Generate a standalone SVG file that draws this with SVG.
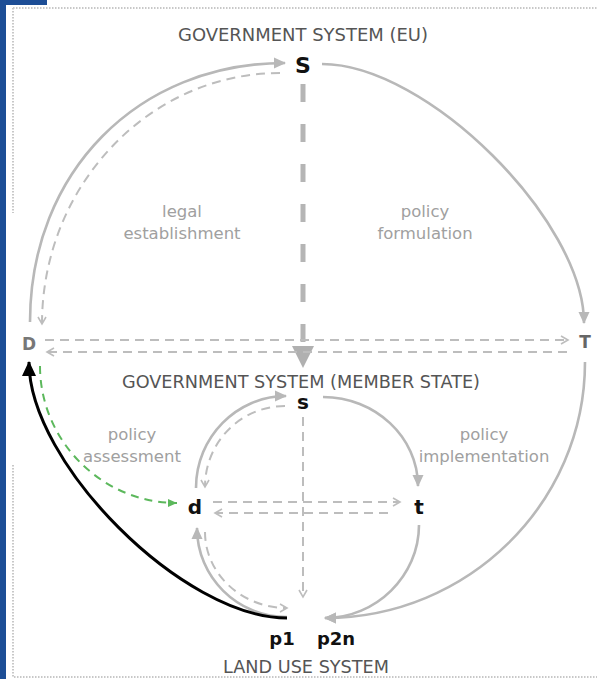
<svg xmlns="http://www.w3.org/2000/svg" width="597" height="679" viewBox="0 0 597 679">
<style>
.title{font-family:"DejaVu Sans",Verdana,sans-serif;font-size:17px;fill:#555;text-anchor:middle}
.lbl{font-family:"DejaVu Sans",Verdana,sans-serif;font-size:16.5px;fill:#a0a0a0;text-anchor:middle}
.node{font-family:"DejaVu Sans",Verdana,sans-serif;font-weight:bold;text-anchor:middle;fill:#111}
.solid{fill:none;stroke:#b8b8b8;stroke-width:2.6}
.dash{fill:none;stroke:#bdbdbd;stroke-width:2;stroke-dasharray:9 6}
.frame{fill:none;stroke:#c8c8c8;stroke-width:2;stroke-dasharray:1.5 1.5}
</style>
<defs>
<marker id="ag" markerUnits="userSpaceOnUse" markerWidth="13" markerHeight="13" viewBox="0 0 13 13" refX="11" refY="6.5" orient="auto"><path d="M0,1 L12,6.5 L0,12 z" fill="#b8b8b8"/></marker>
<marker id="ch" markerUnits="userSpaceOnUse" markerWidth="10" markerHeight="10" viewBox="0 0 10 10" refX="8" refY="5" orient="auto"><path d="M1,1 L8,5 L1,9" fill="none" stroke="#bdbdbd" stroke-width="1.6"/></marker>
<marker id="ab" markerUnits="userSpaceOnUse" markerWidth="16" markerHeight="16" viewBox="0 0 16 16" refX="14" refY="8" orient="auto"><path d="M0,1 L15,8 L0,15 z" fill="#000"/></marker>
<marker id="agr" markerUnits="userSpaceOnUse" markerWidth="10" markerHeight="10" viewBox="0 0 10 10" refX="9" refY="5" orient="auto"><path d="M0,1 L9,5 L0,9 z" fill="#5cb85c"/></marker>
</defs>
<rect x="0" y="0" width="597" height="679" fill="#fff"/>
<rect x="0" y="0" width="6" height="679" fill="#1d4e96"/>
<rect x="0" y="0" width="47" height="5" fill="#1d4e96"/>
<path class="frame" d="M13,8 H597 M13,8 V213 M13,465 V677 H597"/>
<g id="connectors">
<path class="solid" d="M30,322 C30,172 138,63 285,63" marker-end="url(#ag)"/>
<path class="dash" d="M280,73 C149,73 42,186 42,324" marker-end="url(#ch)"/>
<path class="solid" d="M322,64 C427,64 584,221 584,323" marker-end="url(#ag)"/>
<path d="M303,84 V348" fill="none" stroke="#b5b5b5" stroke-width="5" stroke-dasharray="18 22"/>
<path d="M292,346 L314,346 L303,368 z" fill="#b0b0b0"/>
<path class="dash" d="M45,340 H568" marker-end="url(#ch)"/>
<path class="dash" d="M567,352 H47" marker-end="url(#ch)"/>
<path class="solid" d="M196,488 C196,437 237,396 286,396" marker-end="url(#ag)"/>
<path class="dash" d="M285,406 C241,406 205,442 205,487" marker-end="url(#ch)"/>
<path class="solid" d="M323,397 C375,397 418,437 418,486" marker-end="url(#ag)"/>
<path class="solid" d="M419,525 C419,576 376,618 325,618" marker-end="url(#ag)"/>
<path class="solid" d="M585,362 C585,503 468,618 325,618" marker-end="url(#ag)"/>
<path class="solid" d="M287,617 C237,617 197,577 197,528" marker-end="url(#ag)"/>
<path class="dash" d="M205,532 C205,574 242,608 287,608" marker-end="url(#ch)"/>
<path class="dash" d="M303,417 V597" marker-end="url(#ch)"/>
<path class="dash" d="M213,502 H400" marker-end="url(#ch)"/>
<path class="dash" d="M388,513 H215" marker-end="url(#ch)"/>
<path d="M287,618 C183,618 29,463 29,362" fill="none" stroke="#000" stroke-width="3" marker-end="url(#ab)"/>
<path d="M40,366 C40,441 102,503 177,503" fill="none" stroke="#5cb85c" stroke-width="2" stroke-dasharray="8 6" marker-end="url(#agr)"/>
</g>
<text class="title" x="303" y="41" textLength="250" lengthAdjust="spacingAndGlyphs">GOVERNMENT SYSTEM (EU)</text>
<text class="title" x="301" y="388" textLength="358" lengthAdjust="spacingAndGlyphs">GOVERNMENT SYSTEM (MEMBER STATE)</text>
<text class="title" x="306" y="673" textLength="166" lengthAdjust="spacingAndGlyphs">LAND USE SYSTEM</text>
<g id="legal"><text class="lbl" x="182" y="217">legal</text><text class="lbl" x="182" y="239">establishment</text></g>
<g id="formulation"><text class="lbl" x="425" y="217">policy</text><text class="lbl" x="425" y="239">formulation</text></g>
<g id="assessment"><text class="lbl" x="132" y="440">policy</text><text class="lbl" x="132" y="462">assessment</text></g>
<g id="implementation"><text class="lbl" x="484" y="440">policy</text><text class="lbl" x="484" y="462">implementation</text></g>
<g id="S"><text class="node" x="303" y="73" font-size="22">S</text></g>
<g id="D"><text class="node" x="29" y="350" font-size="17" style="fill:#777">D</text></g>
<g id="T"><text class="node" x="585" y="348" font-size="17" style="fill:#666">T</text></g>
<g id="s"><text class="node" x="303" y="409" font-size="20">s</text></g>
<g id="d"><text class="node" x="195" y="514" font-size="20">d</text></g>
<g id="t"><text class="node" x="419" y="514" font-size="20">t</text></g>
<g id="p1"><text class="node" x="282" y="645" font-size="18">p1</text></g>
<g id="p2n"><text class="node" x="336" y="645" font-size="18">p2n</text></g>
</svg>
